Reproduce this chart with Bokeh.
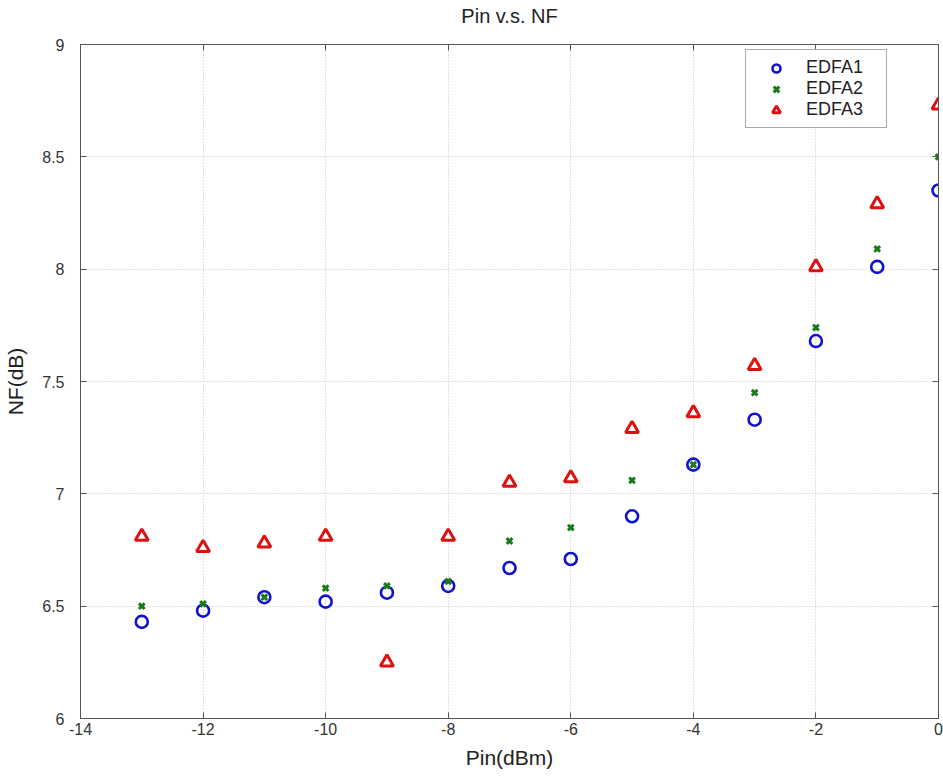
from bokeh.plotting import figure
from bokeh.models import Range1d, FixedTicker, LinearAxis, Legend, LegendItem
from bokeh.embed import file_html
from bokeh.resources import INLINE

pin = [-13, -12, -11, -10, -9, -8, -7, -6, -5, -4, -3, -2, -1, 0]
edfa1 = [6.43, 6.48, 6.54, 6.52, 6.56, 6.59, 6.67, 6.71, 6.90, 7.13, 7.33, 7.68, 8.01, 8.35]
edfa2 = [6.50, 6.51, 6.54, 6.58, 6.59, 6.61, 6.79, 6.85, 7.06, 7.13, 7.45, 7.74, 8.09, 8.50]
edfa3 = [6.81, 6.76, 6.78, 6.81, 6.25, 6.81, 7.05, 7.07, 7.29, 7.36, 7.57, 8.01, 8.29, 8.73]
x_ticks = [-14, -12, -10, -8, -6, -4, -2, 0]
x_tick_labels = ["-14", "-12", "-10", "-8", "-6", "-4", "-2", "0"]
y_ticks = [6, 6.5, 7, 7.5, 8, 8.5, 9]
y_tick_labels = ["6", "6.5", "7", "7.5", "8", "8.5", "9"]
title_text = "Pin v.s. NF"

FONT = "Liberation Sans"

p = figure(width=943, height=782, output_backend="svg", toolbar_location=None,
           title=None,
           x_range=Range1d(-14, 0), y_range=Range1d(6, 9),
           min_border_left=80, min_border_right=5, min_border_top=44, min_border_bottom=64)

for ax in (p.xaxis[0], p.yaxis[0]):
    ax.major_tick_in = 6
    ax.major_tick_out = 0
    ax.minor_tick_in = 0
    ax.minor_tick_out = 0
    ax.axis_line_color = "#555555"
    ax.major_tick_line_color = "#555555"
    ax.major_label_text_font = FONT
    ax.major_label_text_font_size = "16px"
    ax.major_label_text_color = "#333333"
    ax.axis_label_text_font = FONT
    ax.axis_label_text_font_size = "21px"
    ax.axis_label_text_font_style = "normal"
    ax.axis_label_text_color = "#222222"

p.xaxis[0].ticker = FixedTicker(ticks=x_ticks)
p.yaxis[0].ticker = FixedTicker(ticks=y_ticks)
p.xaxis[0].major_label_overrides = {t: l for t, l in zip(x_ticks, x_tick_labels)}
p.yaxis[0].major_label_overrides = {t: l for t, l in zip(y_ticks, y_tick_labels)}
p.xaxis[0].axis_label = "Pin(dBm)"
p.yaxis[0].axis_label = "NF(dB)"
p.xaxis[0].major_label_standoff = 4
p.yaxis[0].major_label_standoff = 16
p.xaxis[0].axis_label_standoff = 8
p.yaxis[0].axis_label_standoff = 12

# mirrored tick axis on top; its axis label carries the chart title
top = LinearAxis(ticker=FixedTicker(ticks=x_ticks),
                 major_label_overrides={t: "" for t in x_ticks},
                 major_tick_in=6, major_tick_out=0, minor_tick_in=0, minor_tick_out=0,
                 major_label_standoff=0, axis_line_color="#555555", major_tick_line_color="#555555",
                 axis_label=title_text, axis_label_standoff=18,
                 axis_label_text_font=FONT, axis_label_text_font_size="20px",
                 axis_label_text_font_style="normal", axis_label_text_color="#222222")
right = LinearAxis(ticker=FixedTicker(ticks=y_ticks),
                   major_label_overrides={t: "" for t in y_ticks},
                   major_tick_in=6, major_tick_out=0, minor_tick_in=0, minor_tick_out=0,
                   major_label_standoff=0, axis_line_color="#555555", major_tick_line_color="#555555")
p.add_layout(top, "above")
p.add_layout(right, "right")

p.xgrid.ticker = FixedTicker(ticks=x_ticks)
p.ygrid.ticker = FixedTicker(ticks=y_ticks)
for g in (p.xgrid[0], p.ygrid[0]):
    g.grid_line_color = "#c4c4c4"
    g.grid_line_dash = "1 2"
    g.grid_line_width = 1

p.outline_line_color = "#555555"
p.background_fill_color = "white"
p.border_fill_color = "white"

r1 = p.scatter(pin, edfa1, marker="circle", size=12, fill_color=None,
               line_color="#1010d0", line_width=2.6)
r2 = p.scatter(pin, edfa2, marker="x", size=8, line_color="#1a7a1a", line_width=3)
r3 = p.scatter(pin, edfa3, marker="triangle", size=13, fill_color="white",
               line_color="#e01010", line_width=3)

legend = Legend(items=[LegendItem(label="EDFA1", renderers=[r1]),
                       LegendItem(label="EDFA2", renderers=[r2]),
                       LegendItem(label="EDFA3", renderers=[r3])],
                location=(665, 590), label_text_font=FONT, label_text_font_size="18px",
                label_text_color="#222222", border_line_color="#555555",
                spacing=0, padding=7, margin=0, label_height=20, glyph_height=20,
                glyph_width=46, label_standoff=7, label_width=73)
p.add_layout(legend, "center")

open("out.html", "w").write(file_html(p, INLINE))
